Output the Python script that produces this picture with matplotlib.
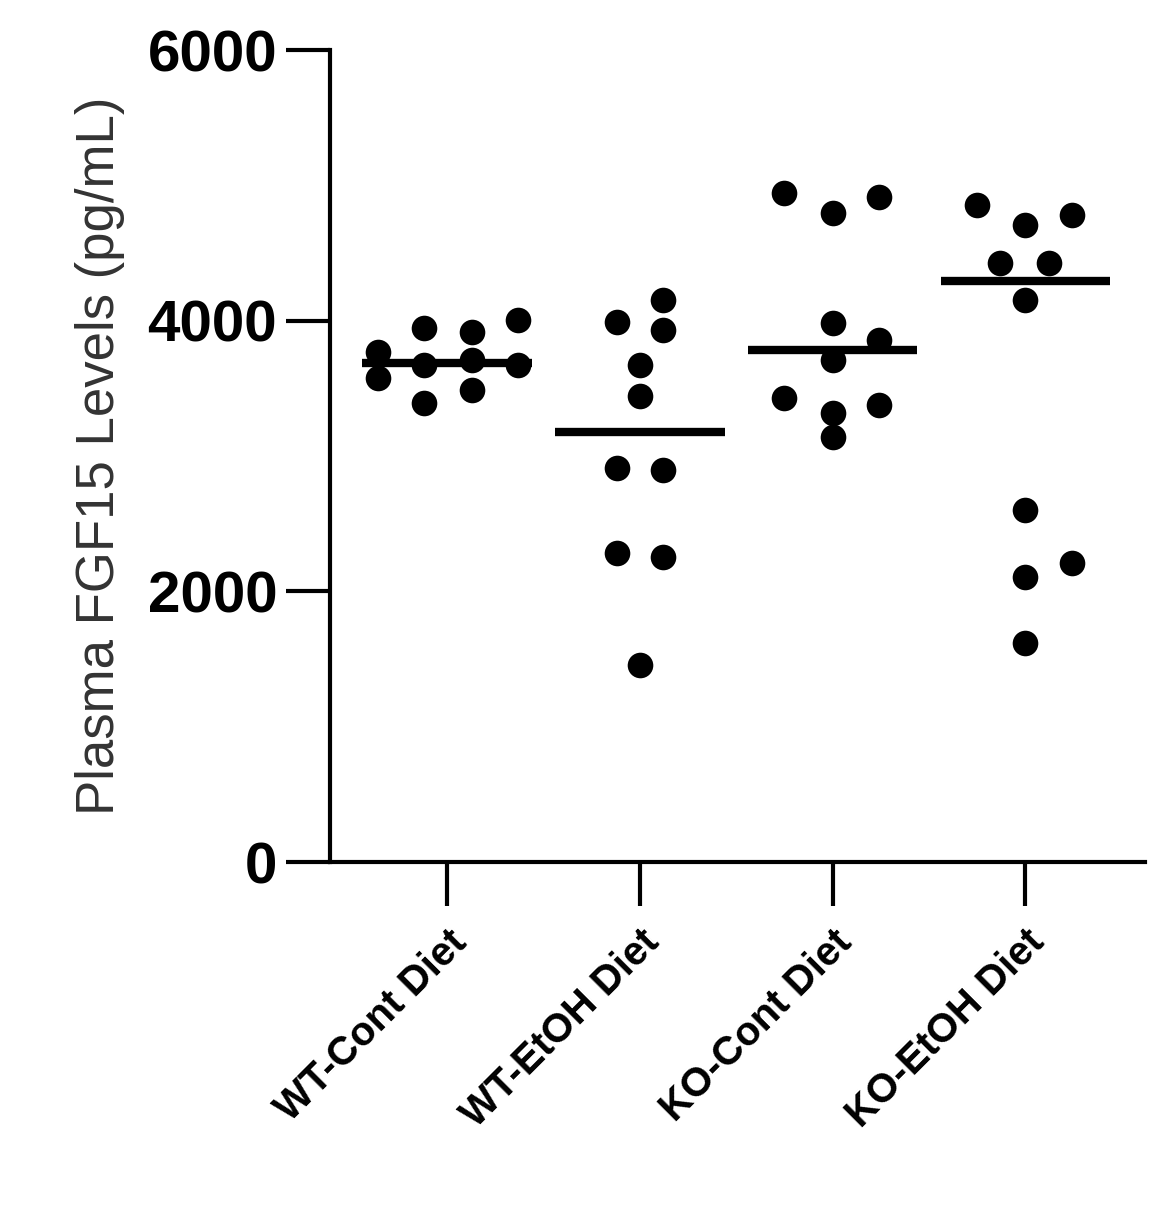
import matplotlib
matplotlib.use("Agg")
import matplotlib.pyplot as plt
import numpy as np

groups = ["WT-Cont Diet", "WT-EtOH Diet", "KO-Cont Diet", "KO-EtOH Diet"]
wt_cont = [3768, 3576, 3946, 3672, 3392, 3916, 3709, 3488, 4005, 3672]
wt_etoh = [3990, 4153, 3931, 3672, 3443, 2911, 2897, 2283, 2254, 1456]
ko_cont = [4943, 4796, 4914, 3983, 3857, 3709, 3429, 3318, 3377, 3140]
ko_etoh = [4855, 4707, 4781, 4426, 4426, 4153, 2601, 2209, 2106, 1618]
# horizontal scatter offsets (in group units)
offs = {
    0: [-0.36, -0.36, -0.12, -0.12, -0.12, 0.13, 0.13, 0.13, 0.37, 0.37],
    1: [-0.12, 0.12, 0.12, 0, 0, -0.12, 0.12, -0.12, 0.12, 0],
    2: [-0.25, 0, 0.24, 0, 0.24, 0, -0.25, 0, 0.24, 0],
    3: [-0.25, 0, 0.24, -0.13, 0.12, 0, 0, 0.24, 0, 0],
}
data = [wt_cont, wt_etoh, ko_cont, ko_etoh]

fig = plt.figure(figsize=(11.68, 12.09), dpi=100)
ax = fig.add_axes([330/1168, 1-862/1209, (1145-330)/1168, (862-50)/1209])
for i, vals in enumerate(data):
    x = i + np.array(offs[i])
    ax.scatter(x, vals, s=340, color="black", zorder=3, linewidths=0)
    m = np.median(vals)
    ax.plot([i-0.44, i+0.44], [m, m], color="black", lw=6, solid_capstyle="butt", zorder=4)

ax.set_xlim(-0.607, 3.62)
ax.set_ylim(0, 6000)
ax.set_yticks([0, 2000, 4000, 6000])
ax.set_xticks(range(4))
ax.set_xticklabels(groups, rotation=45, ha="right", rotation_mode="anchor",
                   fontsize=29, fontweight="bold", family="Liberation Sans")
for lab in ax.get_yticklabels():
    lab.set_fontsize(42); lab.set_fontweight("bold"); lab.set_family("Liberation Sans")
ax.spines["top"].set_visible(False)
ax.spines["right"].set_visible(False)
for s in ("left", "bottom"):
    ax.spines[s].set_linewidth(3)
ax.tick_params(axis="both", length=32, width=3, pad=6)
ax.tick_params(axis="x", pad=12)
ax.set_ylabel("Plasma FGF15 Levels (pg/mL)", fontsize=38, color="#333333",
              family="Liberation Sans", labelpad=16)
fig.savefig("out.png", dpi=100)
